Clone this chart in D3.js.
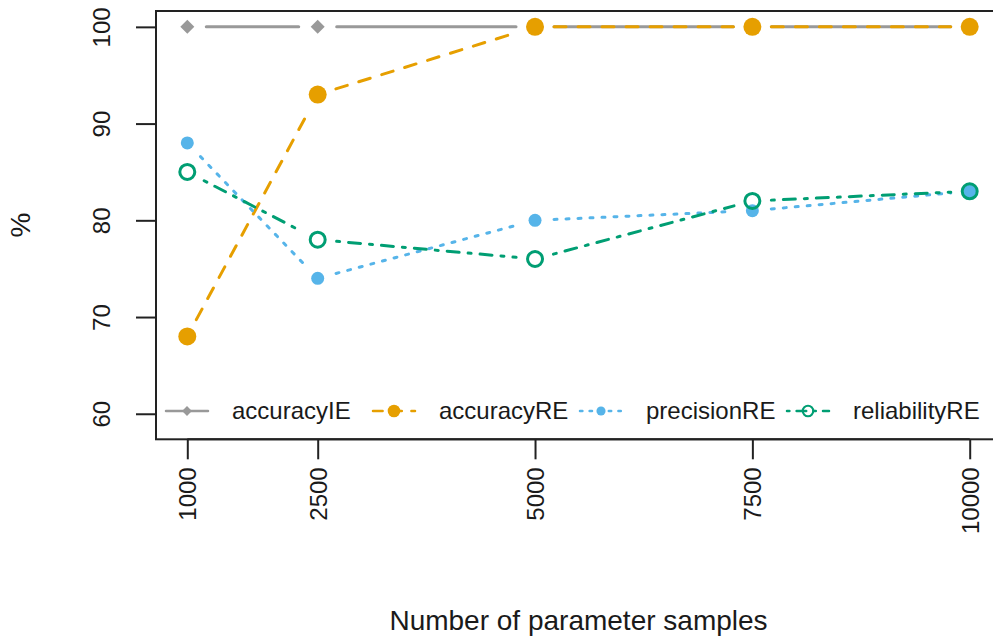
<!DOCTYPE html>
<html lang="en">
<head>
<meta charset="utf-8">
<title>Parameter samples</title>
<script src="https://d3js.org/d3.v7.min.js"></script>
<style>
  body { margin: 0; background: #fff; }
  text { font-family: "Liberation Sans", Arial, Helvetica, sans-serif; fill: #1a1a1a; }
</style>
</head>
<body>
<script>
// data
var samples = [1000, 2500, 5000, 7500, 10000];
var accuracyIE = [100, 100, 100, 100, 100];
var accuracyRE = [68, 93, 100, 100, 100];
var precisionRE = [88, 74, 80, 81, 83];
var reliabilityRE = [85, 78, 76, 82, 83];
var yTicks = [60, 70, 80, 90, 100];
var seriesNames = ["accuracyIE", "accuracyRE", "precisionRE", "reliabilityRE"];

var width = 993, height = 638;
var mLeft = 156, mRight = 1001, mTop = 11, mBottom = 439.3;

var svg = d3.select("body").append("svg")
    .attr("width", width)
    .attr("height", height);

// R style extended ranges (4% each side)
var x = d3.scaleLinear().domain([640, 10360]).range([mLeft, mRight]);
var y = d3.scaleLinear().domain([57.36, 101.64]).range([mBottom, mTop]);

var series = [
  { name: seriesNames[0], values: accuracyIE, color: "#999999", dash: null, pch: "diamond" },
  { name: seriesNames[1], values: accuracyRE, color: "#E69F00", dash: "12,12", pch: "disc" },
  { name: seriesNames[2], values: precisionRE, color: "#56B4E9", dash: "3,9", pch: "dot" },
  { name: seriesNames[3], values: reliabilityRE, color: "#009E73", dash: "3,9,12,9", pch: "ring" }
];

function marker(g, type, color, cx, cy, k) {
  if (type === "diamond") {
    g.append("path")
      .attr("d", d3.symbol(d3.symbolSquare, 98 * k * k)())
      .attr("transform", "translate(" + cx + "," + cy + ") rotate(45)")
      .attr("fill", color);
  } else if (type === "disc") {
    g.append("circle").attr("cx", cx).attr("cy", cy).attr("r", 9 * k).attr("fill", color);
  } else if (type === "dot") {
    g.append("circle").attr("cx", cx).attr("cy", cy).attr("r", 6.5 * k).attr("fill", color);
  } else {
    g.append("circle").attr("cx", cx).attr("cy", cy).attr("r", 7.5 * k)
      .attr("fill", "none").attr("stroke", color).attr("stroke-width", 3 * k);
  }
}

var gap = 19;
var plot = svg.append("g");

series.forEach(function(s) {
  var pts = samples.map(function(d, i) { return [x(d), y(s.values[i])]; });
  var g = plot.append("g");
  // type = "b": segments with gaps around points
  for (var i = 0; i < pts.length - 1; i++) {
    var p = pts[i], q = pts[i + 1];
    var dx = q[0] - p[0], dy = q[1] - p[1];
    var len = Math.sqrt(dx * dx + dy * dy);
    if (len <= 2 * gap) continue;
    var ux = dx / len, uy = dy / len;
    g.append("line")
      .attr("x1", p[0] + ux * gap).attr("y1", p[1] + uy * gap)
      .attr("x2", q[0] - ux * gap).attr("y2", q[1] - uy * gap)
      .attr("stroke", s.color)
      .attr("stroke-width", 3)
      .attr("stroke-linecap", "round")
      .attr("stroke-dasharray", s.dash);
  }
  pts.forEach(function(p) { marker(g, s.pch, s.color, p[0], p[1], 1); });
});

// box
svg.append("rect")
    .attr("x", mLeft).attr("y", mTop)
    .attr("width", mRight - mLeft).attr("height", mBottom - mTop)
    .attr("fill", "none").attr("stroke", "#222").attr("stroke-width", 2);

// x axis
var xAxis = svg.append("g")
    .attr("transform", "translate(0," + mBottom + ")")
    .call(d3.axisBottom(x).tickValues(samples).tickSize(20).tickFormat(d3.format("d")));
xAxis.select(".domain").attr("d", "M" + x(samples[0]) + ",0H" + x(samples[samples.length - 1]))
    .attr("stroke", "#222").attr("stroke-width", 2);
xAxis.selectAll(".tick line").attr("stroke", "#222").attr("stroke-width", 2);
xAxis.selectAll(".tick text")
    .attr("transform", "translate(0,28) rotate(-90)")
    .attr("x", 0).attr("y", 0).attr("dy", "0.35em")
    .attr("text-anchor", "end")
    .attr("font-size", 24).attr("fill", "#1a1a1a")
    .style("font-family", "'Liberation Sans', Arial, sans-serif");

// y axis
var yAxis = svg.append("g")
    .attr("transform", "translate(" + mLeft + ",0)")
    .call(d3.axisLeft(y).tickValues(yTicks).tickSize(20));
yAxis.select(".domain").attr("d", "M0," + y(yTicks[0]) + "V" + y(yTicks[yTicks.length - 1]))
    .attr("stroke", "#222").attr("stroke-width", 2);
yAxis.selectAll(".tick line").attr("stroke", "#222").attr("stroke-width", 2);
yAxis.selectAll(".tick text")
    .attr("transform", "translate(-46,0) rotate(-90)")
    .attr("x", 0).attr("y", 0).attr("dy", 0)
    .attr("text-anchor", "middle")
    .attr("font-size", 24).attr("fill", "#1a1a1a")
    .style("font-family", "'Liberation Sans', Arial, sans-serif");

// axis titles
svg.append("text")
    .attr("x", (mLeft + mRight) / 2).attr("y", 630)
    .attr("text-anchor", "middle")
    .attr("font-size", 28)
    .text("Number of parameter samples");

svg.append("text")
    .attr("transform", "translate(30," + ((mTop + mBottom) / 2) + ") rotate(-90)")
    .attr("text-anchor", "middle")
    .attr("font-size", 28)
    .text("%");

// legend (horizontal, no box)
var legY = 411;
var leg = svg.append("g");
series.forEach(function(s, i) {
  var mx = 187 + i * 207;
  leg.append("line")
    .attr("x1", mx - 21).attr("x2", mx + 21)
    .attr("y1", legY).attr("y2", legY)
    .attr("stroke", s.color).attr("stroke-width", 2.5)
    .attr("stroke-linecap", "round")
    .attr("stroke-dasharray", s.dash ? s.dash.split(",").map(function(v) { return v * 0.8; }).join(",") : null);
  marker(leg, s.pch, s.color, mx, legY, 0.7);
  leg.append("text")
    .attr("x", mx + 45).attr("y", legY)
    .attr("dy", "0.35em")
    .attr("font-size", 24)
    .text(s.name);
});
</script>
</body>
</html>
